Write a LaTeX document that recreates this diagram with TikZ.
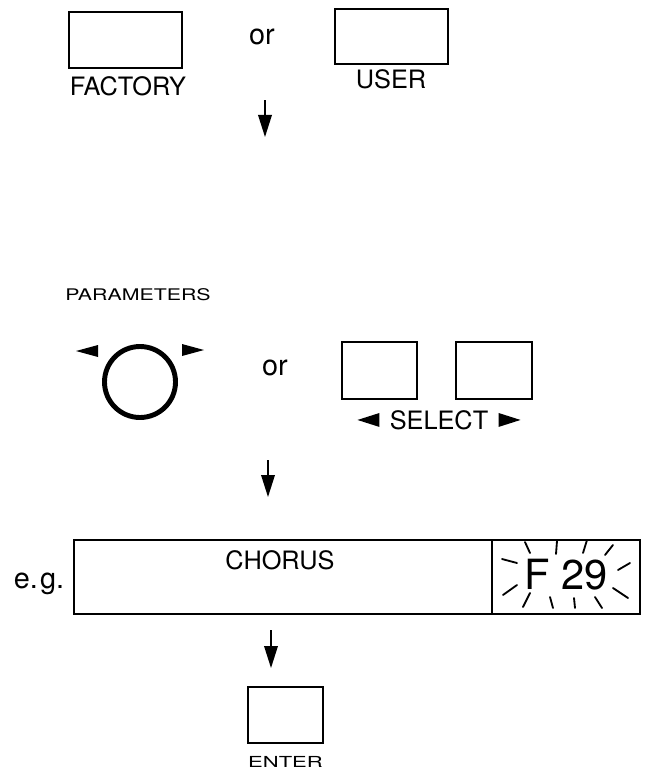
\documentclass[tikz,border=0pt]{standalone}
\usepackage{fontspec}
\setmainfont{TeX Gyre Heros}
\usepackage{graphicx}
\usepackage{tikz}
\usetikzlibrary{positioning,arrows.meta}

\newcommand{\pxu}{0.025cm}

\tikzset{
  tasto/.style={draw, line width=1.1pt, inner sep=0pt},
  etichetta/.style={inner sep=0pt, font=\fontsize{18}{20}\selectfont},
  oppure/.style={inner sep=0pt, font=\fontsize{20.5}{22}\selectfont},
  piccola/.style={inner sep=0pt, font=\fontsize{11.4}{13}\selectfont},
  freccia/.style={line width=1.1pt, -{Triangle[length=0.55cm,width=0.34cm]}},
  raggio/.style={line width=1.3pt, line cap=round}
}

\begin{document}
\begin{tikzpicture}[x=\pxu, y=-\pxu]
    \useasboundingbox (0,0) rectangle (651,769);
    % TASTI
    \node[tasto, minimum width=113*\pxu, minimum height=56*\pxu] (factory) at (125.5,40) {};
    \node[tasto, minimum width=113*\pxu, minimum height=55*\pxu] (user) at (391.5,36.5) {};
    \node[tasto, minimum width=75*\pxu, minimum height=57*\pxu] (selsx) at (379.5,370.5) {};
    \node[tasto, minimum width=76*\pxu, minimum height=57*\pxu] (seldx) at (494,370.5) {};
    \node[tasto, minimum width=75*\pxu, minimum height=56*\pxu] (enter) at (285.5,715) {};
    \node[draw, circle, line width=3.5pt, minimum size=71*\pxu, inner sep=0pt] (manopola) at (140,382) {};
    \node[tasto, line width=1.3pt, minimum width=566*\pxu, minimum height=74*\pxu] (display) at (357,577) {};
    \coordinate (div) at (492,0);
    \draw[line width=1.1pt] (display.north -| div) -- (display.south -| div);

    % TESTI
    \node[etichetta] (factoryl) at (128,86) {FACTORY};
    \node[etichetta] (userl) at (391,79) {USER};
    \node[oppure] (or1) at (262,37) {or};
    \node[piccola] (parametri) at (138,295) {\scalebox{1.33}[1]{PARAMETERS}};
    \node[oppure] (or2) at (275,368) {or};
    \coordinate (selmid) at (439,399);
    \node[etichetta, below=11*\pxu of selmid] (select) {SELECT};
    \node[oppure, anchor=base] (eg) at (39,588) {e.\kern1.5pt g.};
    \node[etichetta] (chorus) at (280,560) {CHORUS};
    \node[inner sep=0pt, font=\fontsize{29.6}{32}\selectfont] (valore) at (566,575) {F 29};
    \node[piccola, font=\fontsize{10.8}{12}\selectfont, below=12*\pxu of enter] (enterl) {\scalebox{1.45}[1]{ENTER}};

    % TRIANGOLI
    \fill (76,351) -- (98,345) -- (98,357) -- cycle;
    \fill (204,350) -- (182,344) -- (182,356) -- cycle;
    \fill (select.west) ++(-32,0) -- ++(22,-7) -- ++(0,14) -- cycle;
    \fill (select.east) ++(32,0) -- ++(-22,-7) -- ++(0,14) -- cycle;

    % RAGGI
    \draw[raggio] (502,559) -- (517,563)  (503,595) -- (517,585)
                  (525,542) -- (530,553)  (557,541) -- (556,554)
                  (587,540) -- (583,553)  (613,545) -- (605,555)
                  (630,563) -- (618,570)  (613,588) -- (628,598)
                  (523,607) -- (530,593)  (550,597) -- (553,608)
                  (574,598) -- (575,608)  (595,597) -- (602,608);

    % FRECCE
    \coordinate (f1a) at (265,100);
    \coordinate (f1b) at (265,137);
    \coordinate (f2a) at (268,460);
    \coordinate (f2b) at (268,497);
    \coordinate (f3a) at (271,630);
    \coordinate (f3b) at (271,668);
    \draw[freccia] (f1a) -- (f1b);
    \draw[freccia] (f2a) -- (f2b);
    \draw[freccia] (f3a) -- (f3b);
\end{tikzpicture}
\end{document}
